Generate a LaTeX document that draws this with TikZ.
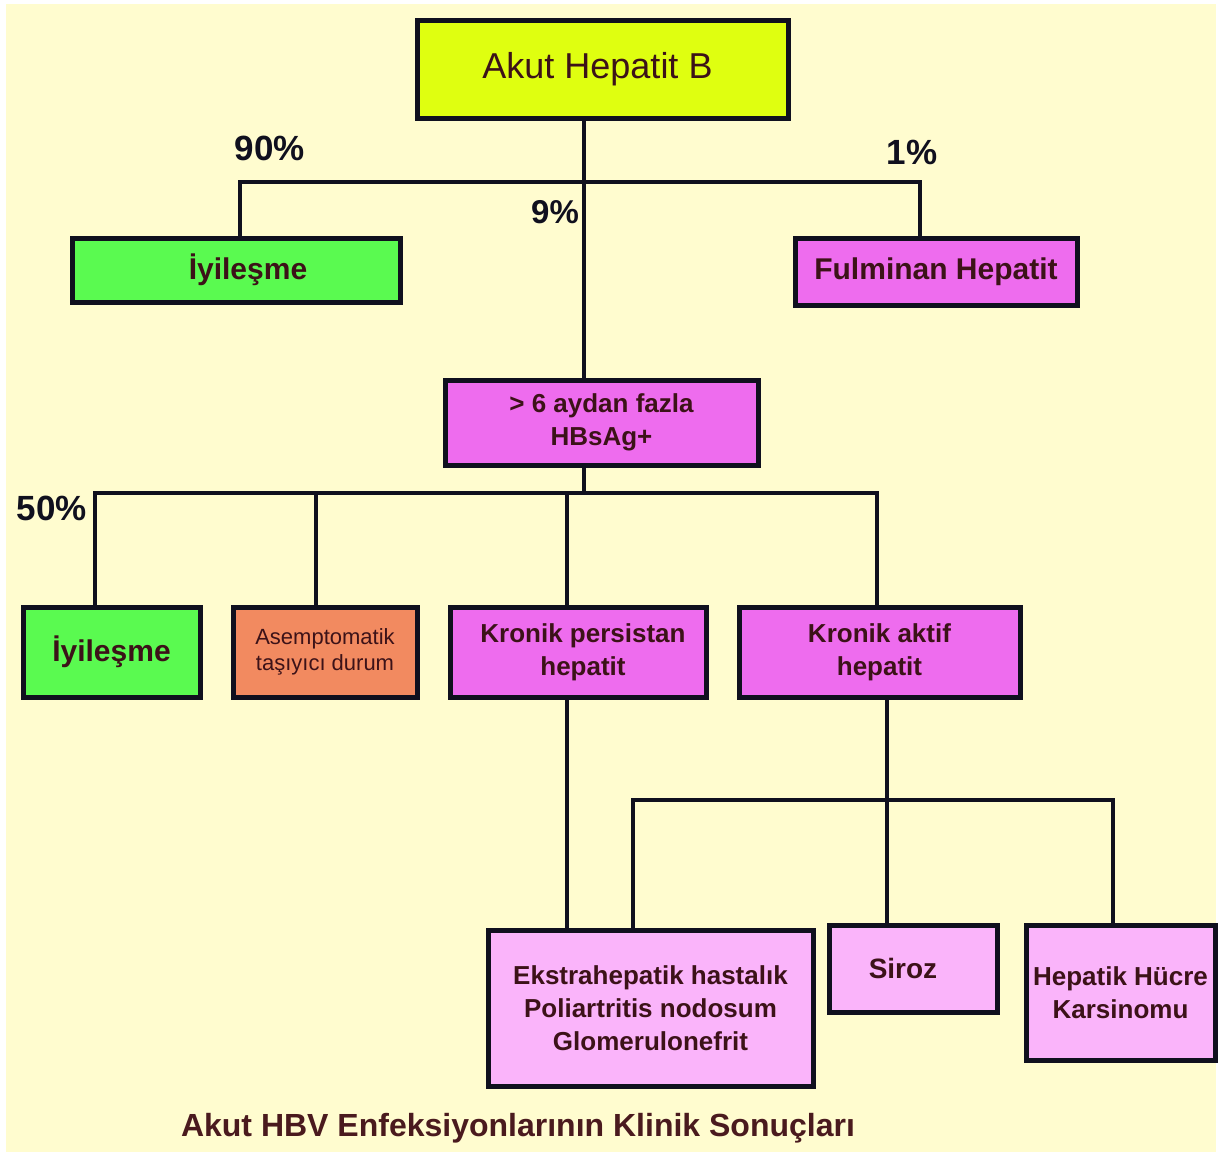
\documentclass[tikz,border=0pt]{standalone}
\usepackage{fontspec}
\setmainfont{Liberation Sans}
\definecolor{bgcream}{HTML}{FFFCCF}
\definecolor{cyellow}{HTML}{DFFF10}
\definecolor{cgreen}{HTML}{5AFA50}
\definecolor{cmag}{HTML}{EE6CEE}
\definecolor{cpink}{HTML}{FAB4FA}
\definecolor{corange}{HTML}{F28A60}
\definecolor{ctext}{HTML}{3C1218}
\definecolor{cline}{HTML}{10101E}
\definecolor{ccap}{HTML}{4A1A1E}
\tikzset{
  box/.style={draw=cline, line width=5pt, anchor=north west, inner sep=0pt,
    align=center, text=ctext, line join=miter},
  conn/.style={draw=cline, line width=4pt, line join=miter},
  pct/.style={text=cline, font=\fontsize{35}{40}\selectfont\bfseries, inner sep=0pt},
  bt/.style={font=\fontsize{26}{33}\selectfont\bfseries}
}
\begin{document}
\begin{tikzpicture}[x=1pt,y=-1pt]
\useasboundingbox (0,0) rectangle (1221,1156);
\fill[white] (0,0) rectangle (1221,1156);
\fill[bgcream] (6,4) rectangle (1216,1152);

% nodes
\node[box, fill=cyellow, minimum width=371pt, minimum height=97pt,
  font=\fontsize{36}{40}\selectfont] (akut) at (414.5,18.5) {Akut Hepatit B\hspace*{10pt}};
\node[box, fill=cgreen, minimum width=328pt, minimum height=64pt,
  font=\fontsize{30}{34}\selectfont\bfseries] (iyi1) at (69.5,235.5) {\hspace*{24pt}İyileşme};
\node[box, fill=cmag, minimum width=282pt, minimum height=67pt,
  font=\fontsize{30}{34}\selectfont\bfseries] (ful) at (792.5,235.5) {Fulminan Hepatit};
\node[box, fill=cmag, minimum width=313pt, minimum height=85pt, bt] (hbs) at (442.5,377.5)
  {> 6 aydan fazla\\HBsAg+};
\node[box, fill=cgreen, minimum width=177pt, minimum height=90pt,
  font=\fontsize{30}{34}\selectfont\bfseries] (iyi2) at (20.5,604.5) {İyileşme};
\node[box, fill=corange, minimum width=184pt, minimum height=90pt,
  font=\fontsize{22}{26}\selectfont] (asm) at (230.5,604.5) {Asemptomatik\\taşıyıcı durum};
\node[box, fill=cmag, minimum width=256pt, minimum height=90pt, bt] (kp) at (447.5,604.5)
  {\hspace*{10pt}Kronik persistan\\\hspace*{10pt}hepatit};
\node[box, fill=cmag, minimum width=281pt, minimum height=90pt, bt] (ka) at (736.5,604.5)
  {Kronik aktif\\hepatit};
\node[box, fill=cpink, minimum width=325pt, minimum height=156pt, bt] (eks) at (485.5,927.5)
  {Ekstrahepatik hastalık\\Poliartritis nodosum\\Glomerulonefrit};
\node[box, fill=cpink, minimum width=168pt, minimum height=87pt,
  font=\fontsize{28}{33}\selectfont\bfseries] (sir) at (826.5,922.5) {Siroz\hspace*{20pt}};
\node[box, fill=cpink, minimum width=189pt, minimum height=135pt, bt] (hcc) at (1023.5,922.5)
  {Hepatik Hücre\\Karsinomu};

% junction coordinates
\coordinate (trunk) at (584,0);
\coordinate (tl) at (240,182);
\coordinate (tr) at (920,182);
\coordinate (m1) at (95,493);
\coordinate (m2) at (316,493);
\coordinate (m3) at (567,493);
\coordinate (m4) at (877,493);
\coordinate (ka1) at (887,0);
\coordinate (b1) at (633,800);
\coordinate (b2) at (1113,800);

% connectors
\draw[conn] (akut.south -| trunk) -- (hbs.north -| trunk);
\draw[conn] (iyi1.north -| tl) -- (tl) -- (tr) -- (ful.north -| tr);
\draw[conn] (hbs.south -| trunk) -- (trunk |- m1);
\draw[conn] (iyi2.north -| m1) -- (m1) -- (m4) -- (ka.north -| m4);
\draw[conn] (m2) -- (asm.north -| m2);
\draw[conn] (m3) -- (kp.north -| m3);
\draw[conn] (kp.south -| m3) -- (eks.north -| m3);
\draw[conn] (ka.south -| ka1) -- (sir.north -| ka1);
\draw[conn] (eks.north -| b1) -- (b1) -- (b2) -- (hcc.north -| b2);

% labels
\node[pct] (p90) at (270,148) {90\%};
\node[pct] (p1) at (912,152) {1\%};
\node[pct, font=\fontsize{33}{38}\selectfont\bfseries] (p9) at (555,212) {9\%};
\node[pct] (p50) at (52,508) {50\%};
\node[text=ccap, font=\fontsize{32}{36}\selectfont\bfseries, inner sep=0pt] (cap) at (518,1128)
  {Akut HBV Enfeksiyonlarının Klinik Sonuçları};
\end{tikzpicture}
\end{document}
